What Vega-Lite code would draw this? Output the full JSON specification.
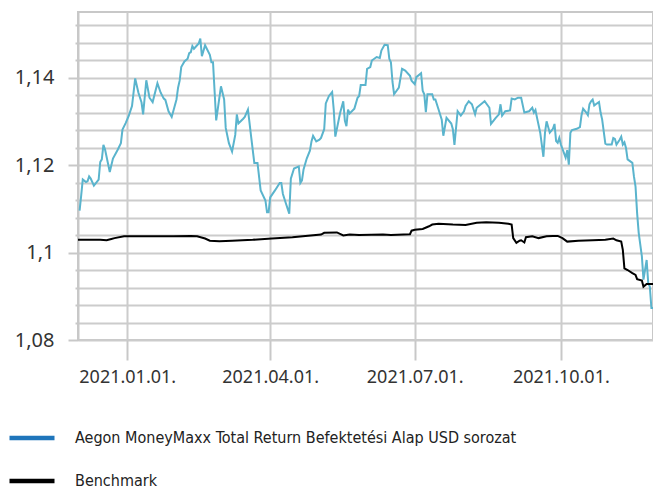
{
  "$schema": "https://vega.github.io/schema/vega-lite/v6.json",
  "width": 575,
  "height": 328,
  "autosize": "none",
  "padding": {"left": 78, "top": 12, "right": 0, "bottom": 149},
  "background": "white",
  "config": {
    "view": {"stroke": "#c8c8c8", "strokeWidth": 2},
    "axis": {"labelFont": "Noto Sans", "labelColor": "#333333", "gridColor": "#cccccc", "gridWidth": 2, "tickColor": "#c8c8c8", "tickWidth": 2, "domainColor": "#c8c8c8", "domainWidth": 2, "title": null}
  },
  "datasets": {
    "fund": [
      {"date":"2020-12-02","value":1.1096},{"date":"2020-12-03","value":1.1130},{"date":"2020-12-04","value":1.1167},{"date":"2020-12-06","value":1.1161},{"date":"2020-12-07","value":1.1163},{"date":"2020-12-08","value":1.1174},{"date":"2020-12-09","value":1.1169},{"date":"2020-12-11","value":1.1153},{"date":"2020-12-14","value":1.1167},{"date":"2020-12-15","value":1.1207},{"date":"2020-12-16","value":1.1213},{"date":"2020-12-17","value":1.1246},{"date":"2020-12-18","value":1.1236},{"date":"2020-12-21","value":1.1184},{"date":"2020-12-23","value":1.1215},{"date":"2020-12-26","value":1.1235},{"date":"2020-12-28","value":1.1250},{"date":"2020-12-29","value":1.1281},{"date":"2020-12-31","value":1.1296},
      {"date":"2021-01-02","value":1.1313},{"date":"2021-01-04","value":1.1335},{"date":"2021-01-06","value":1.1398},{"date":"2021-01-08","value":1.1366},{"date":"2021-01-10","value":1.1343},{"date":"2021-01-11","value":1.1316},{"date":"2021-01-13","value":1.1394},{"date":"2021-01-15","value":1.1354},{"date":"2021-01-17","value":1.1344},{"date":"2021-01-20","value":1.1387},{"date":"2021-01-22","value":1.1366},{"date":"2021-01-24","value":1.1352},{"date":"2021-01-25","value":1.1349},{"date":"2021-01-27","value":1.1323},{"date":"2021-01-29","value":1.1310},
      {"date":"2021-02-01","value":1.1350},{"date":"2021-02-02","value":1.1377},{"date":"2021-02-03","value":1.1393},{"date":"2021-02-04","value":1.1424},{"date":"2021-02-06","value":1.1437},{"date":"2021-02-08","value":1.1443},{"date":"2021-02-09","value":1.1456},{"date":"2021-02-10","value":1.1458},{"date":"2021-02-11","value":1.1472},{"date":"2021-02-12","value":1.1466},{"date":"2021-02-15","value":1.1478},{"date":"2021-02-16","value":1.1489},{"date":"2021-02-17","value":1.1449},{"date":"2021-02-19","value":1.1474},{"date":"2021-02-22","value":1.1452},{"date":"2021-02-23","value":1.1435},{"date":"2021-02-24","value":1.1435},{"date":"2021-02-26","value":1.1302},
      {"date":"2021-03-01","value":1.1380},{"date":"2021-03-03","value":1.1350},{"date":"2021-03-04","value":1.1285},{"date":"2021-03-06","value":1.1250},{"date":"2021-03-08","value":1.1231},{"date":"2021-03-10","value":1.1269},{"date":"2021-03-11","value":1.1316},{"date":"2021-03-12","value":1.1295},{"date":"2021-03-15","value":1.1306},{"date":"2021-03-16","value":1.1310},{"date":"2021-03-18","value":1.1327},{"date":"2021-03-20","value":1.1265},{"date":"2021-03-22","value":1.1205},{"date":"2021-03-24","value":1.1205},{"date":"2021-03-26","value":1.1142},{"date":"2021-03-29","value":1.1119},{"date":"2021-03-30","value":1.1092},{"date":"2021-03-31","value":1.1092},
      {"date":"2021-04-01","value":1.1126},{"date":"2021-04-04","value":1.1142},{"date":"2021-04-07","value":1.1159},{"date":"2021-04-08","value":1.1159},{"date":"2021-04-09","value":1.1134},{"date":"2021-04-11","value":1.1111},{"date":"2021-04-13","value":1.1089},{"date":"2021-04-14","value":1.1169},{"date":"2021-04-16","value":1.1192},{"date":"2021-04-19","value":1.1197},{"date":"2021-04-20","value":1.1159},{"date":"2021-04-21","value":1.1165},{"date":"2021-04-22","value":1.1190},{"date":"2021-04-24","value":1.1215},{"date":"2021-04-26","value":1.1233},{"date":"2021-04-27","value":1.1254},{"date":"2021-04-28","value":1.1267},{"date":"2021-04-30","value":1.1254},
      {"date":"2021-05-02","value":1.1258},{"date":"2021-05-03","value":1.1262},{"date":"2021-05-05","value":1.1282},{"date":"2021-05-06","value":1.1341},{"date":"2021-05-08","value":1.1358},{"date":"2021-05-10","value":1.1367},{"date":"2021-05-11","value":1.1327},{"date":"2021-05-12","value":1.1265},{"date":"2021-05-15","value":1.1319},{"date":"2021-05-17","value":1.1346},{"date":"2021-05-18","value":1.1302},{"date":"2021-05-19","value":1.1289},{"date":"2021-05-20","value":1.1327},{"date":"2021-05-21","value":1.1318},{"date":"2021-05-24","value":1.1329},{"date":"2021-05-26","value":1.1354},{"date":"2021-05-27","value":1.1358},{"date":"2021-05-28","value":1.1383},{"date":"2021-05-31","value":1.1383},
      {"date":"2021-06-01","value":1.1420},{"date":"2021-06-03","value":1.1424},{"date":"2021-06-04","value":1.1439},{"date":"2021-06-07","value":1.1447},{"date":"2021-06-09","value":1.1445},{"date":"2021-06-10","value":1.1462},{"date":"2021-06-12","value":1.1475},{"date":"2021-06-14","value":1.1474},{"date":"2021-06-15","value":1.1443},{"date":"2021-06-16","value":1.1435},{"date":"2021-06-17","value":1.1390},{"date":"2021-06-18","value":1.1362},{"date":"2021-06-21","value":1.1377},{"date":"2021-06-23","value":1.1420},{"date":"2021-06-25","value":1.1416},{"date":"2021-06-28","value":1.1404},{"date":"2021-06-29","value":1.1393},
      {"date":"2021-07-01","value":1.1385},{"date":"2021-07-02","value":1.1401},{"date":"2021-07-05","value":1.1410},{"date":"2021-07-06","value":1.1370},{"date":"2021-07-07","value":1.1362},{"date":"2021-07-08","value":1.1321},{"date":"2021-07-09","value":1.1362},{"date":"2021-07-12","value":1.1362},{"date":"2021-07-13","value":1.1350},{"date":"2021-07-14","value":1.1350},{"date":"2021-07-16","value":1.1327},{"date":"2021-07-18","value":1.1304},{"date":"2021-07-19","value":1.1267},{"date":"2021-07-21","value":1.1308},{"date":"2021-07-24","value":1.1295},{"date":"2021-07-25","value":1.1282},{"date":"2021-07-26","value":1.1246},{"date":"2021-07-28","value":1.1323},{"date":"2021-07-30","value":1.1313},
      {"date":"2021-08-01","value":1.1323},{"date":"2021-08-02","value":1.1335},{"date":"2021-08-04","value":1.1346},{"date":"2021-08-06","value":1.1339},{"date":"2021-08-08","value":1.1316},{"date":"2021-08-09","value":1.1331},{"date":"2021-08-13","value":1.1343},{"date":"2021-08-14","value":1.1346},{"date":"2021-08-17","value":1.1331},{"date":"2021-08-18","value":1.1294},{"date":"2021-08-21","value":1.1308},{"date":"2021-08-23","value":1.1316},{"date":"2021-08-24","value":1.1339},{"date":"2021-08-25","value":1.1313},{"date":"2021-08-27","value":1.1323},{"date":"2021-08-30","value":1.1325},{"date":"2021-08-31","value":1.1352},
      {"date":"2021-09-02","value":1.1350},{"date":"2021-09-04","value":1.1354},{"date":"2021-09-06","value":1.1354},{"date":"2021-09-08","value":1.1320},{"date":"2021-09-11","value":1.1323},{"date":"2021-09-13","value":1.1331},{"date":"2021-09-14","value":1.1320},{"date":"2021-09-15","value":1.1326},{"date":"2021-09-16","value":1.1308},{"date":"2021-09-18","value":1.1274},{"date":"2021-09-20","value":1.1219},{"date":"2021-09-21","value":1.1274},{"date":"2021-09-22","value":1.1300},{"date":"2021-09-24","value":1.1274},{"date":"2021-09-26","value":1.1283},{"date":"2021-09-27","value":1.1294},{"date":"2021-09-28","value":1.1255},{"date":"2021-09-29","value":1.1251},{"date":"2021-09-30","value":1.1262},
      {"date":"2021-10-01","value":1.1247},{"date":"2021-10-04","value":1.1217},{"date":"2021-10-05","value":1.1234},{"date":"2021-10-06","value":1.1201},{"date":"2021-10-07","value":1.1274},{"date":"2021-10-08","value":1.1280},{"date":"2021-10-11","value":1.1283},{"date":"2021-10-13","value":1.1287},{"date":"2021-10-14","value":1.1314},{"date":"2021-10-15","value":1.1329},{"date":"2021-10-17","value":1.1320},{"date":"2021-10-18","value":1.1314},{"date":"2021-10-19","value":1.1339},{"date":"2021-10-20","value":1.1346},{"date":"2021-10-21","value":1.1350},{"date":"2021-10-22","value":1.1336},{"date":"2021-10-23","value":1.1339},{"date":"2021-10-25","value":1.1344},{"date":"2021-10-26","value":1.1320},{"date":"2021-10-27","value":1.1304},{"date":"2021-10-29","value":1.1249},{"date":"2021-10-30","value":1.1247},
      {"date":"2021-11-02","value":1.1247},{"date":"2021-11-03","value":1.1262},{"date":"2021-11-04","value":1.1260},{"date":"2021-11-05","value":1.1247},{"date":"2021-11-07","value":1.1258},{"date":"2021-11-08","value":1.1265},{"date":"2021-11-09","value":1.1247},{"date":"2021-11-10","value":1.1252},{"date":"2021-11-11","value":1.1239},{"date":"2021-11-12","value":1.1213},{"date":"2021-11-15","value":1.1205},{"date":"2021-11-16","value":1.1174},{"date":"2021-11-17","value":1.1151},{"date":"2021-11-18","value":1.1090},{"date":"2021-11-19","value":1.1045},{"date":"2021-11-21","value":1.0991},{"date":"2021-11-22","value":1.0938},{"date":"2021-11-24","value":1.0983},{"date":"2021-11-25","value":1.0930},{"date":"2021-11-26","value":1.0922},{"date":"2021-11-27","value":1.0873},{"date":"2021-11-28","value":1.0873}
    ],
    "bench": [
      {"date":"2020-12-01","value":1.1029},{"date":"2020-12-15","value":1.1029},{"date":"2020-12-19","value":1.1028},{"date":"2020-12-22","value":1.1031},{"date":"2020-12-24","value":1.1033},{"date":"2020-12-30","value":1.1037},{"date":"2021-01-15","value":1.1037},{"date":"2021-01-30","value":1.1037},{"date":"2021-02-10","value":1.1038},{"date":"2021-02-14","value":1.1037},{"date":"2021-02-19","value":1.1032},{"date":"2021-02-22","value":1.1027},{"date":"2021-02-28","value":1.1026},{"date":"2021-03-08","value":1.1027},{"date":"2021-03-21","value":1.1029},{"date":"2021-04-02","value":1.1032},{"date":"2021-04-15","value":1.1035},{"date":"2021-05-03","value":1.1041},{"date":"2021-05-05","value":1.1045},{"date":"2021-05-13","value":1.1046},{"date":"2021-05-17","value":1.1039},{"date":"2021-05-21","value":1.1041},{"date":"2021-05-27","value":1.1040},{"date":"2021-06-11","value":1.1041},{"date":"2021-06-16","value":1.1040},{"date":"2021-06-28","value":1.1042},{"date":"2021-06-29","value":1.1050},{"date":"2021-07-01","value":1.1052},{"date":"2021-07-06","value":1.1054},{"date":"2021-07-10","value":1.1060},{"date":"2021-07-12","value":1.1064},{"date":"2021-07-16","value":1.1066},{"date":"2021-07-25","value":1.1064},{"date":"2021-08-02","value":1.1063},{"date":"2021-08-09","value":1.1068},{"date":"2021-08-15","value":1.1069},{"date":"2021-08-23","value":1.1068},{"date":"2021-08-29","value":1.1066},{"date":"2021-08-31","value":1.1064},{"date":"2021-09-01","value":1.1033},{"date":"2021-09-03","value":1.1022},{"date":"2021-09-05","value":1.1027},{"date":"2021-09-06","value":1.1028},{"date":"2021-09-08","value":1.1023},{"date":"2021-09-09","value":1.1035},{"date":"2021-09-13","value":1.1037},{"date":"2021-09-17","value":1.1033},{"date":"2021-09-22","value":1.1037},{"date":"2021-09-26","value":1.1038},{"date":"2021-09-29","value":1.1038},{"date":"2021-10-02","value":1.1033},{"date":"2021-10-05","value":1.1025},{"date":"2021-10-12","value":1.1027},{"date":"2021-10-21","value":1.1028},{"date":"2021-10-29","value":1.1029},{"date":"2021-11-03","value":1.1032},{"date":"2021-11-05","value":1.1028},{"date":"2021-11-08","value":1.1025},{"date":"2021-11-09","value":1.1006},{"date":"2021-11-10","value":1.0964},{"date":"2021-11-12","value":1.0960},{"date":"2021-11-15","value":1.0953},{"date":"2021-11-17","value":1.0949},{"date":"2021-11-18","value":1.0939},{"date":"2021-11-21","value":1.0936},{"date":"2021-11-22","value":1.0922},{"date":"2021-11-24","value":1.0928},{"date":"2021-11-28","value":1.0928}
    ]
  },
  "encoding": {
    "x": {
      "field": "date", "type": "temporal",
      "scale": {"type": "utc", "domain": [{"year": 2020, "month": 12, "date": 1, "utc": true}, {"year": 2021, "month": 11, "date": 28, "utc": true}]},
      "axis": {
        "values": [{"year": 2021, "month": 1, "date": 1, "utc": true}, {"year": 2021, "month": 4, "date": 1, "utc": true}, {"year": 2021, "month": 7, "date": 1, "utc": true}, {"year": 2021, "month": 10, "date": 1, "utc": true}],
        "format": "%Y.%m.%d.", "grid": true, "domain": false, "tickSize": 20, "labelPadding": 8, "labelFontSize": 18, "labelOverlap": false, "labelFlush": false
      }
    },
    "y": {
      "field": "value", "type": "quantitative",
      "scale": {"domain": [1.08, 1.155], "nice": false, "zero": false},
      "axis": {
        "values": [1.08, 1.084, 1.088, 1.092, 1.096, 1.1, 1.104, 1.108, 1.112, 1.116, 1.12, 1.124, 1.128, 1.132, 1.136, 1.14, 1.144, 1.148, 1.152],
        "labelExpr": "abs(datum.value * 50 - round(datum.value * 50)) < 0.001 ? replace(format(datum.value, '.3~g'), '.', ',') : ''",
        "tickSize": {"condition": {"test": "abs(datum.value * 50 - round(datum.value * 50)) < 0.001", "value": 10}, "value": 3},
        "labelPadding": 14, "labelFontSize": 20, "labelOverlap": false, "labelBound": false, "grid": true, "domain": true
      }
    }
  },
  "layer": [
    {
      "data": {"name": "fund"},
      "mark": {"type": "line", "strokeWidth": 2},
      "encoding": {
        "color": {
          "condition": {"test": "isNumber(datum.value)", "value": "#5ab4cd"},
          "datum": "Aegon MoneyMaxx Total Return Befektetési Alap USD sorozat", "type": "nominal",
          "scale": {"domain": ["Aegon MoneyMaxx Total Return Befektetési Alap USD sorozat", "Benchmark"], "range": ["#1f75bb", "#000000"]},
          "legend": {
            "orient": "none", "legendX": -71, "legendY": 401, "direction": "vertical", "title": null,
            "symbolType": "stroke", "symbolSize": 2025, "symbolStrokeWidth": 4.5,
            "labelFont": "Liberation Sans Narrow, DejaVu Sans Condensed, Roboto", "labelFontSize": 16, "labelColor": "#222222", "labelLimit": 1000, "labelOffset": 18, "rowPadding": 9
          }
        }
      }
    },
    {
      "data": {"name": "bench"},
      "mark": {"type": "line", "strokeWidth": 2},
      "encoding": {
        "color": {"datum": "Benchmark", "type": "nominal"}
      }
    }
  ]
}
